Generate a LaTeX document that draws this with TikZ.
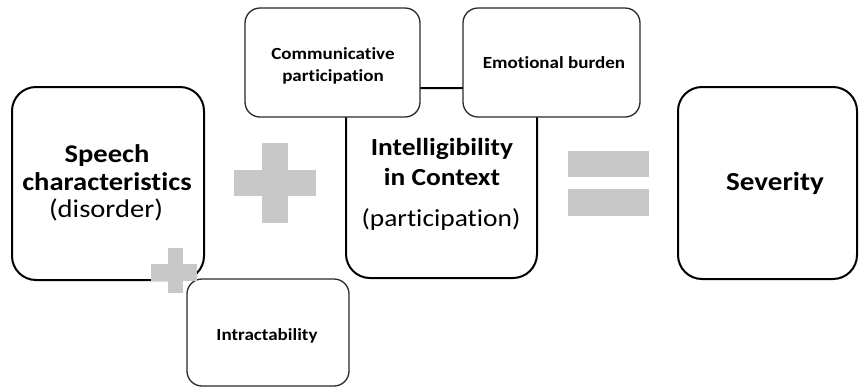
\documentclass[tikz,border=0pt]{standalone}
\usepackage{fontspec}
\setmainfont{Carlito}[Ligatures=NoCommon]
\definecolor{signgray}{HTML}{C8C8C8}
\definecolor{thinedge}{HTML}{2A2A2A}
% slightly widened lettering
\newcommand\widetext[1]{\scalebox{1.12}[1]{#1}}
\begin{document}
\begin{tikzpicture}[x=1pt,y=-1pt,
  bigbox/.style={draw=black, line width=2pt, rounded corners=24pt, fill=white, inner sep=0pt},
  smallbox/.style={draw=thinedge, line width=1.3pt, rounded corners=15pt, fill=white, inner sep=0pt},
  line/.style={inner sep=0pt, anchor=base},
  speechfont/.style={line, font=\fontsize{25.5}{27}\selectfont},
  intelfont/.style={line, font=\fontsize{24.5}{27}\selectfont},
  sevfont/.style={line, font=\bfseries\fontsize{26}{27}\selectfont},
  smallfont/.style={line, font=\bfseries\fontsize{17}{22}\selectfont},
  sign/.style={fill=signgray, draw=none}]
\useasboundingbox (0,0) rectangle (860,389);
\fill[white] (0,0) rectangle (860,389);

% main boxes
\node[bigbox, minimum width=192pt, minimum height=193pt] (speech) at (108,183.5) {};
\node[bigbox, minimum width=191pt, minimum height=190pt] (intel) at (441.5,183) {};
\node[bigbox, minimum width=179pt, minimum height=192pt] (severity) at (767.5,183) {};

% boxes sitting on the intelligibility box
\node[smallbox, minimum width=175pt, minimum height=109pt] (comm) at (332.5,62.5) {};
\node[smallbox, minimum width=177pt, minimum height=109pt] (emo) at (551.5,62.5) {};
\node[smallbox, minimum width=162pt, minimum height=107pt] (intract) at (268,332.5) {};

% texts, one node per line, placed on their baselines
\node[speechfont] (speech1) at (107,162) {\widetext{\bfseries Speech}};
\node[speechfont] (speech2) at (107,190) {\widetext{\bfseries characteristics}};
\node[speechfont] (speech3) at (106,217) {\widetext{(disorder)}};
\node[intelfont] (intel1) at (442,155) {\widetext{\bfseries Intelligibility}};
\node[intelfont] (intel2) at (442,185) {\widetext{\bfseries in Context}};
\node[intelfont] (intel3) at (441,226) {\widetext{(participation)}};
\node[sevfont] (sev1) at (775,190) {\widetext{Severity}};
\node[smallfont] (comm1) at (333,59) {\widetext{Communicative}};
\node[smallfont] (comm2) at (333,81) {\widetext{participation}};
\node[smallfont] (emo1) at (554,68) {\widetext{Emotional burden}};
\node[smallfont] (intract1) at (267,340) {\widetext{Intractability}};

% big plus
\fill[sign] (262,143) rectangle (288,223);
\fill[sign] (234,170) rectangle (316,196);
% equals
\fill[sign] (568,151) rectangle (649,177);
\fill[sign] (568,189) rectangle (649,216);
% small plus
\fill[sign] (168,248) rectangle (183,293);
\fill[sign] (151,264) rectangle (197,281);
\end{tikzpicture}
\end{document}
